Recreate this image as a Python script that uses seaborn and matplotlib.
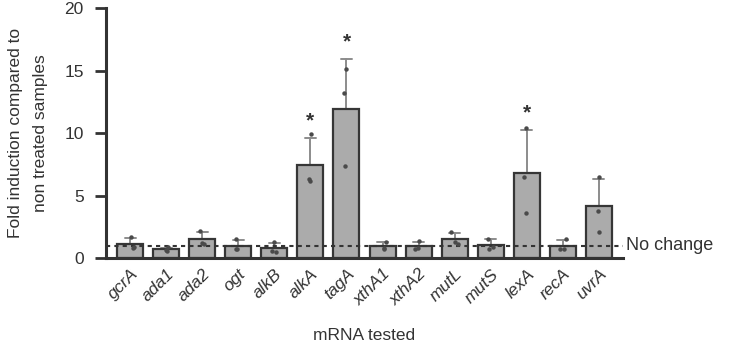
import pandas as pd
import matplotlib
matplotlib.use('Agg')
import matplotlib.pyplot as plt
import matplotlib.transforms as mtransforms
import seaborn as sns

# genes tested and replicate fold-induction values (3 per gene)
genes = ['gcrA', 'ada1', 'ada2', 'ogt', 'alkB', 'alkA', 'tagA',
         'xthA1', 'xthA2', 'mutL', 'mutS', 'lexA', 'recA', 'uvrA']
rep1 = [1.65, 0.85, 2.15, 1.55, 1.30, 9.9, 15.1, 1.30, 1.35, 2.05, 1.55, 10.4, 1.55, 6.5]
rep2 = [0.85, 0.65, 1.20, 0.75, 0.60, 6.3, 13.2, 0.80, 0.80, 1.30, 0.85, 6.5, 0.75, 3.8]
rep3 = [0.80, 0.60, 1.15, 0.70, 0.50, 6.2, 7.4, 0.75, 0.70, 1.15, 0.75, 3.6, 0.70, 2.1]
significant = ['alkA', 'tagA', 'lexA']

df = pd.DataFrame({'gene': genes * 3, 'fold': rep1 + rep2 + rep3})

sns.set_theme(style="ticks")
plt.rcParams['font.family'] = ['Liberation Sans', 'DejaVu Sans']

fig = plt.figure(figsize=(7.34, 3.42), dpi=100)
ax = fig.add_axes([0.1444, 0.2456, 0.7044, 0.7310])

sns.barplot(data=df, x='gene', y='fold', order=genes, errorbar='sd',
            color='#ababab', saturation=1, width=0.72, edgecolor='#363636',
            linewidth=1.6, err_kws={'color': '#8c8c8c', 'linewidth': 1.4},
            capsize=0.3, ax=ax)
# hide lower half of error bars behind the bars
for ln in ax.lines:
    ln.set_zorder(0.5)
for p in ax.patches:
    p.set_zorder(1)

sns.stripplot(data=df, x='gene', y='fold', order=genes, color='#4a4a4a',
              size=3.2, jitter=0.1, ax=ax, zorder=3)

# stars above significant genes
stats = df.groupby('gene')['fold'].agg(['mean', 'std'])
for g in significant:
    i = genes.index(g)
    top = stats.loc[g, 'mean'] + stats.loc[g, 'std']
    ax.text(i, top + 0.6, '*', ha='center', va='bottom', fontsize=15,
            color='#333333', fontweight='bold')

ax.axhline(1, color='#333333', linestyle=(0, (2, 2)), linewidth=1.5,
           zorder=2, clip_on=False)
ax.text(1.005, 1, 'No change', transform=ax.get_yaxis_transform(),
        ha='left', va='center', fontsize=13, color='#333333')

ax.set_ylim(0, 20)
ax.set_xlim(-0.67, len(genes) - 0.33)
ax.set_yticks([0, 5, 10, 15, 20])
ax.set_ylabel('Fold induction compared to\nnon treated samples',
              fontsize=12.5, color='#333333', labelpad=12, linespacing=1.8)
ax.set_xlabel('mRNA tested', fontsize=12.5, color='#333333', labelpad=14)
ax.set_xticks(range(len(genes)))
ax.set_xticklabels(genes, rotation=45, ha='right', rotation_mode='anchor',
                   fontstyle='italic', fontsize=12.5, color='#333333')
shift = mtransforms.ScaledTranslation(6 / 72, -2 / 72, fig.dpi_scale_trans)
for lab in ax.get_xticklabels():
    lab.set_transform(lab.get_transform() + shift)
ax.tick_params(axis='y', length=8, width=2, pad=8, labelsize=12.5,
               colors='#333333')
ax.tick_params(axis='x', length=0, pad=6)
sns.despine(ax=ax)
for s in ['left', 'bottom']:
    ax.spines[s].set_linewidth(2.2)
    ax.spines[s].set_color('#333333')

fig.savefig('out.png', dpi=100)
